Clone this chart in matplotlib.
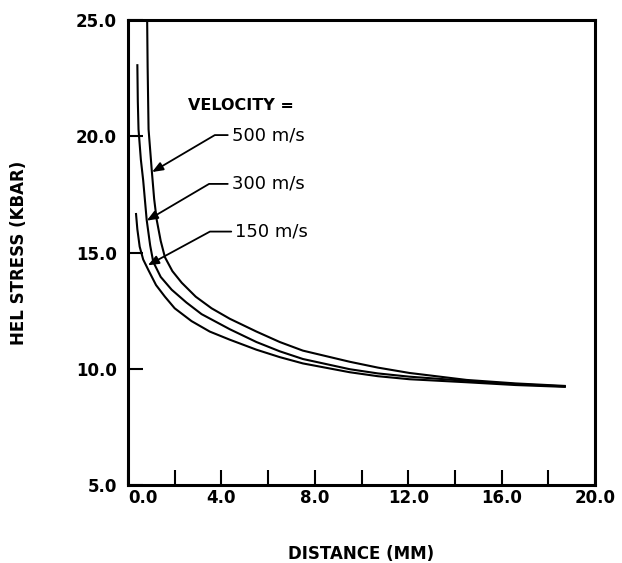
import numpy as np
import matplotlib
matplotlib.use('Agg')
from matplotlib import pyplot as plt

# curves (distance mm, HEL stress kbar)
x_150 = [0.34, 0.40, 0.50, 0.65, 0.87, 1.20, 1.58, 2.00, 2.72, 3.50, 4.36,
         5.50, 6.50, 7.49, 9.50, 10.7, 12.05, 14.5, 16.6, 18.75]
y_150 = [16.7, 16.0, 15.25, 14.7, 14.25, 13.6, 13.1, 12.6, 12.05, 11.6, 11.25,
         10.82, 10.5, 10.23, 9.85, 9.68, 9.55, 9.42, 9.30, 9.22]

x_300 = [0.40, 0.42, 0.45, 0.55, 0.65, 0.80, 0.95, 1.08, 1.40, 1.87, 2.50,
         3.15, 4.36, 5.50, 6.50, 7.49, 9.50, 10.7, 12.05, 14.5, 16.6, 18.75]
y_300 = [23.1, 21.5, 20.3, 19.0, 18.1, 16.4, 15.3, 14.6, 13.95, 13.4, 12.85,
         12.35, 11.7, 11.15, 10.75, 10.42, 9.98, 9.80, 9.66, 9.48, 9.34, 9.24]

x_500 = [0.82, 0.84, 0.88, 1.02, 1.12, 1.23, 1.40, 1.58, 1.90, 2.30, 2.90,
         3.58, 4.36, 5.50, 6.50, 7.49, 9.50, 10.7, 12.05, 14.5, 16.6, 18.75]
y_500 = [25.0, 23.0, 20.3, 18.5, 17.3, 16.4, 15.5, 14.8, 14.2, 13.7, 13.1,
         12.6, 12.15, 11.6, 11.15, 10.78, 10.3, 10.05, 9.82, 9.52, 9.37, 9.26]

curve_labels = ['500 m/s', '300 m/s', '150 m/s']
# arrow tips on curves and text anchors
tip_xy = [(1.03, 18.46), (0.80, 16.37), (0.85, 14.45)]
text_xy = [(4.45, 20.05), (4.45, 17.95), (4.60, 15.9)]
leader_ang = [30.5, 30.5, 28.5]

x_ticks_major = [0, 4, 8, 12, 16, 20]
x_ticks_minor = [2, 6, 10, 14, 18]
y_ticks = [5, 10, 15, 20, 25]


def plot_hel():
    f, ax = plt.subplots(figsize=(6.22, 5.63), dpi=100)
    ax: plt.Axes
    f.subplots_adjust(left=0.2058, right=0.9566, bottom=0.1385, top=0.9645)

    for xx, yy in [(x_150, y_150), (x_300, y_300), (x_500, y_500)]:
        ax.plot(xx, yy, color='k', lw=1.5, solid_capstyle='butt',
                solid_joinstyle='round')

    ax.set_xlim(0, 20)
    ax.set_ylim(5, 25)
    ax.set_xticks(x_ticks_major)
    ax.set_xticklabels(['%.1f' % v for v in x_ticks_major])
    ax.set_xticks(x_ticks_minor, minor=True)
    ax.set_yticks(y_ticks)
    ax.set_yticklabels(['%.1f' % v for v in y_ticks])

    ax.tick_params(which='both', direction='in', length=11, width=1.5,
                   labelsize=12, top=False, right=False)
    ax.tick_params(axis='x', pad=3)
    ax.tick_params(axis='y', pad=8)
    for lab in ax.get_xticklabels() + ax.get_yticklabels():
        lab.set_fontweight('bold')
    ax.get_xticklabels()[0].set_ha('left')
    for sp in ax.spines.values():
        sp.set_linewidth(2.2)

    ax.set_xlabel('DISTANCE (MM)', fontsize=12, fontweight='bold')
    ax.set_ylabel('HEL STRESS (KBAR)', fontsize=12, fontweight='bold')
    ax.xaxis.set_label_coords(0.5, -0.13)
    ax.yaxis.set_label_coords(-0.215, 0.5)

    ax.text(2.56, 21.34, 'VELOCITY =', fontsize=11.5, fontweight='bold',
            ha='left', va='center')
    for lab, tip, txt, ang in zip(curve_labels, tip_xy, text_xy, leader_ang):
        ax.annotate(
            lab, xy=tip, xytext=txt, fontsize=13, ha='left', va='center',
            arrowprops=dict(
                arrowstyle='-|>,head_length=0.5,head_width=0.2',
                color='k', lw=1.3, relpos=(0, 0.5),
                shrinkA=1, shrinkB=0,
                connectionstyle='angle,angleA=0,angleB=%s,rad=0' % ang,
            ),
        )

    f.savefig('out.png', dpi=100)


plot_hel()
